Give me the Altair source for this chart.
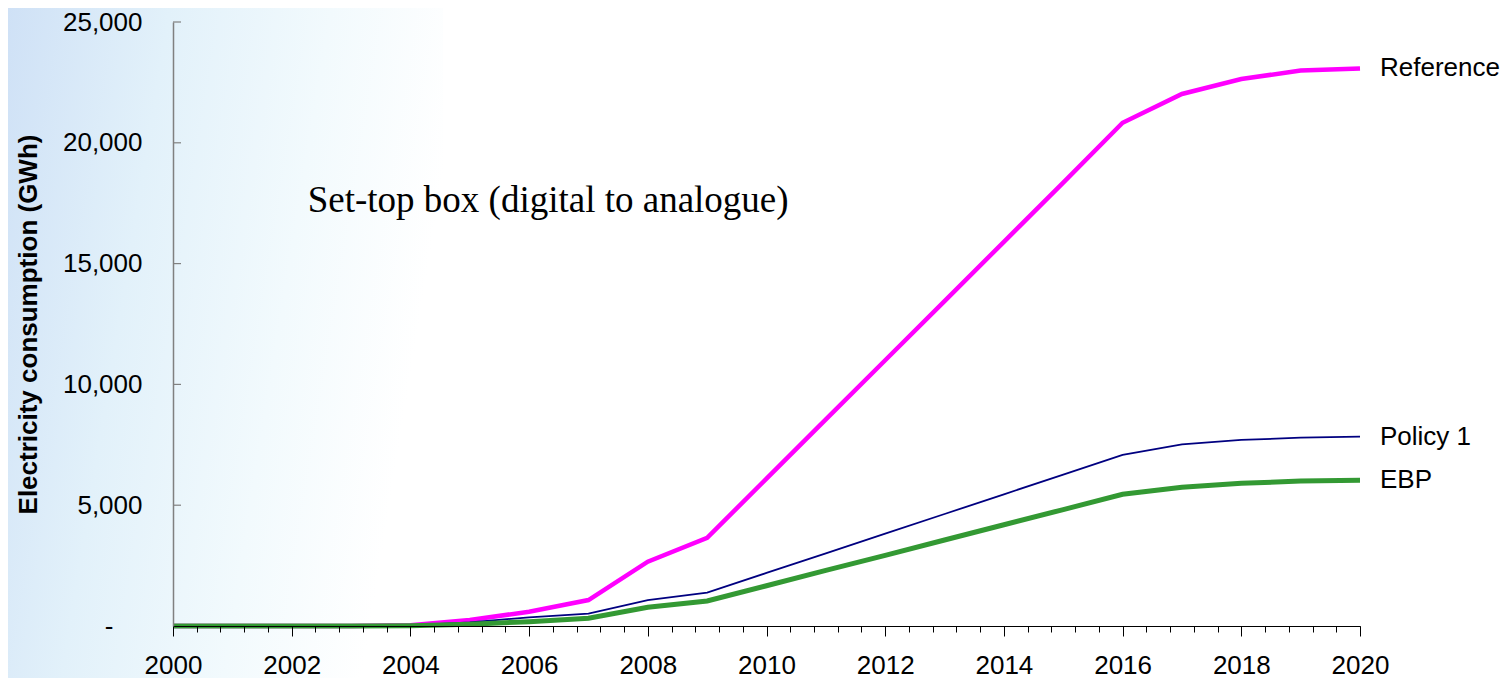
import altair as alt
import pandas as pd

# ---- data ----
YEARS = list(range(2000, 2021))
REFERENCE = [0, 0, 0, 0, 30, 250, 590, 1075, 2660, 3650, 6100, 8550, 11000,
             13450, 15900, 18350, 20830, 22020, 22640, 22990, 23080]
POLICY_1 = [0, 0, 0, 0, 20, 150, 360, 510, 1075, 1380, 2195, 3010, 3820,
            4635, 5450, 6265, 7080, 7520, 7700, 7795, 7835]
EBP = [0, 0, 0, 0, 10, 70, 180, 320, 775, 1035, 1665, 2300, 2925,
       3560, 4190, 4820, 5450, 5740, 5905, 6000, 6030]
SERIES = ["Reference", "Policy 1", "EBP"]
Y_TICKS = [0, 5000, 10000, 15000, 20000, 25000]
X_MAJOR = list(range(2000, 2021, 2))
X_MINOR = [round(2000 + 0.4 * k, 1) for k in range(51)]
TITLE = "Set-top box (digital to analogue)"
Y_TITLE = "Electricity consumption (GWh)"

# ---- styles ----
COLORS = {"Reference": "#FF00FF", "Policy 1": "#000080", "EBP": "#339933"}
WIDTHS = {"Reference": 4.5, "Policy 1": 1.8, "EBP": 5}
LABEL_DY = {"Reference": -23, "Policy 1": -4, "EBP": 8}
TITLE_AT = (2002.27, 17130)
SANS = "Liberation Sans"
SERIF = "Liberation Serif"
W, H = 1187, 604

series_df = {}
for name, vals in zip(SERIES, [REFERENCE, POLICY_1, EBP]):
    series_df[name] = pd.DataFrame({"year": YEARS, "value": vals})
labels_df = pd.DataFrame({
    "year": [YEARS[-1]] * 3,
    "value": [REFERENCE[-1], POLICY_1[-1], EBP[-1]],
    "series": SERIES,
    "dy": [LABEL_DY[s] for s in SERIES],
})
title_df = pd.DataFrame({"x": [TITLE_AT[0]], "y": [TITLE_AT[1]], "t": [TITLE]})
yticks_df = pd.DataFrame({"v": Y_TICKS})

xscale = alt.Scale(domain=[2000, 2020], nice=False, zero=False)
yscale = alt.Scale(domain=[0, 25000], nice=False)

major_axis = alt.Axis(
    orient="bottom", values=X_MAJOR, format="d", tickSize=10, tickColor="black",
    tickWidth=1, domainColor="black", domainWidth=1.2, labelFont=SANS,
    labelFontSize=26, labelColor="black", labelPadding=16, grid=False,
    title=None, labelFlush=False, labelOverlap=False, zindex=1,
)
minor_axis = alt.Axis(
    orient="bottom", values=X_MINOR, tickSize=6, tickColor="black", tickWidth=1,
    labels=False, domain=False, grid=False, title=None, zindex=1,
)
y_axis = alt.Axis(
    orient="left", values=Y_TICKS, ticks=False,
    labelPadding={"condition": {"test": "datum.value == 0", "value": 60}, "value": 31},
    labelExpr="datum.value == 0 ? '-' : format(datum.value, ',')",
    labelFont=SANS, labelFontSize=26, labelColor="black",
    domainColor="#808080", domainWidth=1.5, grid=False,
    title=Y_TITLE, titleFont=SANS, titleFontSize=26, titleFontWeight="bold",
    titleColor="black", titleX=-145, titleY=H / 2, titleAngle=270,
    titleBaseline="middle", titleAlign="center", zindex=1,
)

bg = alt.Chart(pd.DataFrame({"a": [0]})).mark_rect(
    fill=alt.LinearGradient(
        gradient="linear", x1=0, y1=0, x2=1, y2=0.25,
        stops=[
            alt.GradientStop(color="#cfe1f6", offset=0),
            alt.GradientStop(color="#e2f1fa", offset=0.35),
            alt.GradientStop(color="#f2fafd", offset=0.7),
            alt.GradientStop(color="#ffffff", offset=1),
        ],
    )
).encode(x=alt.value(-165), x2=alt.value(270), y=alt.value(-14), y2=alt.value(H + 56))

yticks = alt.Chart(yticks_df).mark_rule(color="#808080", strokeWidth=1.2).encode(
    y=alt.Y("v:Q", scale=yscale, axis=y_axis), x=alt.value(0), x2=alt.value(8)
)

title = alt.Chart(title_df).mark_text(
    font=SERIF, fontSize=37, align="left", baseline="alphabetic", color="black"
).encode(
    x=alt.X("x:Q", scale=xscale, axis=minor_axis),
    y=alt.Y("y:Q", scale=yscale, axis=None),
    text="t:N",
)

line_layers = []
for i, name in enumerate(SERIES):
    line_layers.append(
        alt.Chart(series_df[name]).mark_line(
            color=COLORS[name], strokeWidth=WIDTHS[name], strokeJoin="miter"
        ).encode(
            x=alt.X("year:Q", scale=xscale, axis=major_axis if i == 0 else None),
            y=alt.Y("value:Q", scale=yscale, axis=None),
        )
    )

labels = alt.Chart(labels_df).mark_text(
    font=SANS, fontSize=26, align="left", baseline="middle", dx=20, color="black"
).encode(
    x=alt.X("year:Q", scale=xscale, axis=None),
    y=alt.Y("value:Q", scale=yscale, axis=None),
    yOffset=alt.YOffset("dy:Q", scale=None),
    text="series:N",
)

chart = alt.layer(bg, yticks, title, *line_layers, labels).resolve_axis(
    x="independent", y="independent"
).properties(
    width=W, height=H,
    padding={"left": 165, "top": 14, "right": 143, "bottom": 52},
    autosize=alt.AutoSizeParams(type="none"),
    background="white",
).configure_view(stroke=None)

chart.save("out.html", embed_options={"renderer": "svg", "actions": False})
